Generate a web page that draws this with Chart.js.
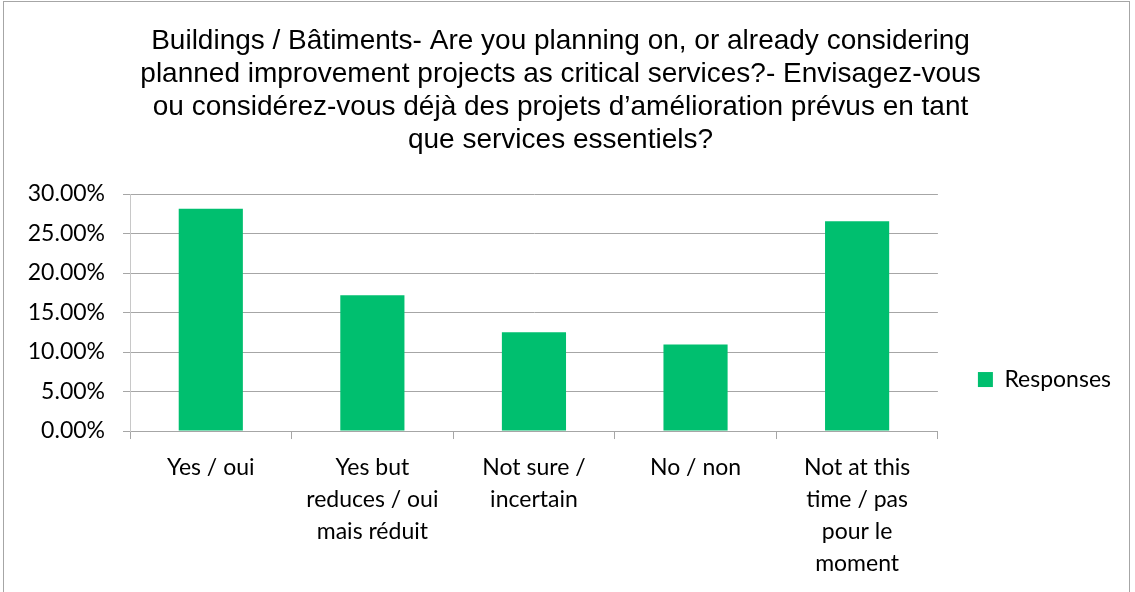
<!DOCTYPE html>
<html>
<head>
<meta charset="utf-8">
<script src="https://cdn.jsdelivr.net/npm/chart.js@4.4.1/dist/chart.umd.min.js"></script>
<style>
    html, body { margin: 0; padding: 0; background: #fff; }
    #wrap { position: relative; width: 1135px; height: 592px; overflow: hidden; }
    #frame {
        position: absolute; left: 3px; top: 1px; width: 1127px; height: 620px;
        border: 1px solid #a6a6a6; pointer-events: none; box-sizing: border-box;
    }
</style>
</head>
<body>
<div id="wrap">
    <canvas id="chart" width="1135" height="592"></canvas>
    <div id="frame"></div>
</div>
<script>
// Chart data
const titleLines = [
    'Buildings / Bâtiments- Are you planning on, or already considering',
    'planned improvement projects as critical services?- Envisagez-vous',
    'ou considérez-vous déjà des projets d\u2019amélioration prévus en tant',
    'que services essentiels?'
];
const categories = [
    ['Yes / oui'],
    ['Yes but', 'reduces / oui', 'mais réduit'],
    ['Not sure /', 'incertain'],
    ['No / non'],
    ['Not at this', 'time / pas', 'pour le', 'moment']
];
const responses = [28.13, 17.19, 12.5, 10.94, 26.56];
const yTicks = { min: 0, max: 30, step: 5 };

const TICK_FONT = { family: 'Lato, "Open Sans", sans-serif', size: 23, lineHeight: 1.38 };
const GRID = '#a6a6a6';
const BAR = '#00bf6f';

const ctx = document.getElementById('chart').getContext('2d');

new Chart(ctx, {
    type: 'bar',
    data: {
        labels: categories,
        datasets: [{
            label: 'Responses',
            data: responses,
            backgroundColor: BAR,
            borderWidth: 0,
            barPercentage: 1,
            categoryPercentage: 0.397
        }]
    },
    options: {
        responsive: false,
        animation: false,
        layout: {
            padding: { left: 0, right: 14, top: 0, bottom: 0 }
        },
        plugins: {
            title: {
                display: true,
                text: titleLines,
                color: '#000',
                font: { family: '"Liberation Sans", Arial, sans-serif', size: 28, weight: 'normal', lineHeight: 33 / 28 },
                padding: { top: 25, bottom: 37 }
            },
            legend: {
                position: 'right',
                align: 'end',
                fullSize: false,
                labels: {
                    color: '#000',
                    font: TICK_FONT,
                    boxWidth: 15,
                    boxHeight: 15,
                    padding: 40
                }
            },
            tooltip: { enabled: false }
        },
        scales: {
            x: {
                grid: {
                    display: true,
                    drawOnChartArea: false,
                    drawTicks: true,
                    tickLength: 8,
                    color: GRID,
                    offset: true
                },
                border: { display: true, color: GRID },
                ticks: {
                    color: '#000',
                    font: TICK_FONT,
                    padding: 13,
                    maxRotation: 0,
                    autoSkip: false
                }
            },
            y: {
                min: yTicks.min,
                max: yTicks.max,
                afterFit: function(scale) {
                    scale.width = 130;
                },
                grid: {
                    color: GRID,
                    drawTicks: true,
                    tickLength: 7
                },
                border: { display: true, color: '#c8c8c8' },
                ticks: {
                    stepSize: yTicks.step,
                    color: '#000',
                    font: TICK_FONT,
                    padding: 18,
                    callback: function(value) {
                        return value.toFixed(2) + '%';
                    }
                }
            }
        }
    }
});
</script>
</body>
</html>
